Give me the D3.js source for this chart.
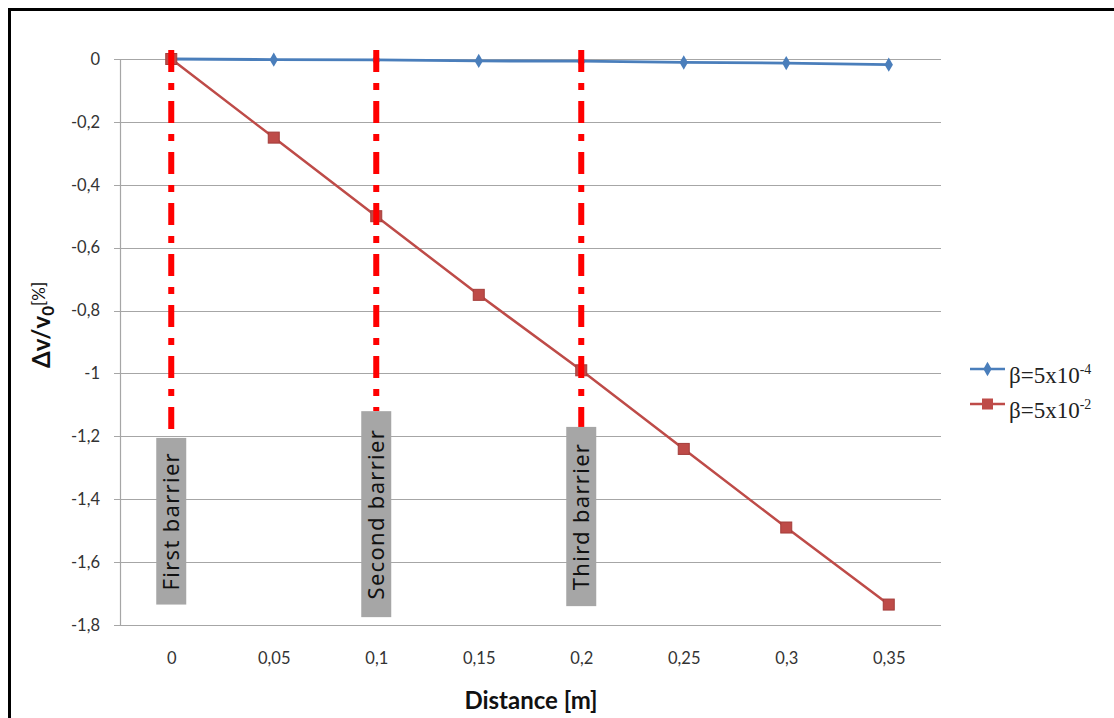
<!DOCTYPE html>
<html>
<head>
<meta charset="utf-8">
<script src="https://cdn.jsdelivr.net/npm/d3@7"></script>
<style>
  html, body { margin: 0; padding: 0; background: #fff; }
  svg { display: block; }
</style>
</head>
<body>
<svg id="chart" width="1114" height="718"></svg>
<script>
// ---- data ----
const categories = ["0", "0,05", "0,1", "0,15", "0,2", "0,25", "0,3", "0,35"];
const seriesSmallBeta = [0, -0.002, -0.003, -0.006, -0.007, -0.011, -0.013, -0.018];
const seriesLargeBeta = [0, -0.25, -0.5, -0.75, -0.99, -1.24, -1.49, -1.735];
const yTickValues = [0, -0.2, -0.4, -0.6, -0.8, -1, -1.2, -1.4, -1.6, -1.8];
const yTickLabels = ["0", "-0,2", "-0,4", "-0,6", "-0,8", "-1", "-1,2", "-1,4", "-1,6", "-1,8"];
const barrierCategories = ["0", "0,1", "0,2"];
const barrierLabels = ["First barrier", "Second barrier", "Third barrier"];
const barrierLabelTop = [-1.205, -1.12, -1.17];
const barrierLabelBottom = [-1.735, -1.775, -1.74];
const legendNames = ["β=5x10", "β=5x10"];
const legendExponents = ["-4", "-2"];

// ---- layout ----
const svg = d3.select("#chart");
const plotLeft = 120, plotRight = 940, plotTop = 59, plotBottom = 625;
const blue = "#4a7ebb", red = "#be4b48";

// frame
svg.append("line").attr("x1", 8).attr("x2", 1114).attr("y1", 9.5).attr("y2", 9.5)
  .attr("stroke", "#000").attr("stroke-width", 3);
svg.append("line").attr("x1", 9.5).attr("x2", 9.5).attr("y1", 8).attr("y2", 718)
  .attr("stroke", "#000").attr("stroke-width", 3);

const x = d3.scalePoint().domain(categories).range([plotLeft, plotRight]).padding(0.5);
const y = d3.scaleLinear().domain([-1.8, 0]).range([plotBottom, plotTop]);

// gridlines
svg.append("g").selectAll("line").data(yTickValues).join("line")
  .attr("x1", plotLeft - 6).attr("x2", plotRight + 1)
  .attr("y1", d => Math.round(y(d)) + 0.5).attr("y2", d => Math.round(y(d)) + 0.5)
  .attr("stroke", "#a6a6a6").attr("stroke-width", 1.2);

// y axis
const yAxis = d3.axisLeft(y).tickValues(yTickValues)
  .tickFormat((d, i) => yTickLabels[i]).tickSize(0).tickPadding(20);
const gy = svg.append("g").attr("transform", `translate(${plotLeft},0)`).call(yAxis);
gy.select(".domain").attr("stroke", "#a6a6a6").attr("stroke-width", 1.2);
gy.selectAll("text").attr("font-family", "Lato, 'Open Sans', sans-serif")
  .attr("font-size", 16.5).attr("fill", "#333");

// x axis
const xAxis = d3.axisBottom(x).tickSize(0).tickPadding(27);
const gx = svg.append("g").attr("transform", `translate(0,${plotBottom})`).call(xAxis);
gx.select(".domain").remove();
gx.selectAll("text").attr("font-family", "Lato, 'Open Sans', sans-serif")
  .attr("font-size", 16.5).attr("fill", "#333");

// axis titles
svg.append("text").attr("x", 531).attr("y", 709).attr("text-anchor", "middle")
  .attr("font-family", "Lato, 'Open Sans', sans-serif").attr("font-weight", "bold")
  .attr("font-size", 24).attr("fill", "#111").text("Distance [m]");

const yt = svg.append("text").attr("transform", "translate(50,325) rotate(-90)")
  .attr("text-anchor", "middle").attr("font-family", "Lato, 'Open Sans', sans-serif")
  .attr("fill", "#111");
yt.append("tspan").attr("font-weight", "bold").attr("font-size", 24).text("Δv/v");
yt.append("tspan").attr("font-weight", "bold").attr("font-size", 17).attr("dy", 4).text("0");
yt.append("tspan").attr("font-size", 17).attr("dy", -9).text("[%]");

// series lines
const line = d3.line().x((d, i) => x(categories[i])).y(d => y(d));
svg.append("path").datum(seriesSmallBeta).attr("d", line)
  .attr("fill", "none").attr("stroke", blue).attr("stroke-width", 2.8);
svg.append("path").datum(seriesLargeBeta).attr("d", line)
  .attr("fill", "none").attr("stroke", red).attr("stroke-width", 2.5);

// markers
svg.append("g").selectAll("path").data(seriesSmallBeta).join("path")
  .attr("transform", (d, i) => `translate(${x(categories[i])},${y(d)})`)
  .attr("d", d3.symbol(d3.symbolDiamond, 60)).attr("fill", blue);
svg.append("g").selectAll("rect").data(seriesLargeBeta).join("rect")
  .attr("x", (d, i) => x(categories[i]) - 5.5).attr("y", d => y(d) - 5.5)
  .attr("width", 11).attr("height", 11).attr("fill", red)
  .attr("stroke", "#a33c39").attr("stroke-width", 1);

// barriers
const barriers = svg.append("g");
barrierCategories.forEach((c, i) => {
  const bx = x(c);
  barriers.append("line").attr("x1", bx).attr("x2", bx)
    .attr("y1", 50).attr("y2", y(barrierLabelTop[i]))
    .attr("stroke", "#ff0000").attr("stroke-width", 6)
    .attr("stroke-dasharray", "22,11,7,11");
  const top = y(barrierLabelTop[i]), bottom = y(barrierLabelBottom[i]);
  barriers.append("rect").attr("x", bx - 15).attr("y", top)
    .attr("width", 30).attr("height", bottom - top).attr("fill", "#a6a6a6");
  barriers.append("text")
    .attr("transform", `translate(${bx + 8},${(top + bottom) / 2}) rotate(-90)`)
    .attr("text-anchor", "middle").attr("font-family", "'Noto Sans', 'Open Sans', sans-serif")
    .attr("font-size", 22).attr("letter-spacing", 1.3).attr("fill", "#111").text(barrierLabels[i]);
});

// legend
const legendColors = [blue, red];
const legendY = [369, 404];
legendNames.forEach((name, i) => {
  const g = svg.append("g");
  g.append("line").attr("x1", 970).attr("x2", 1005).attr("y1", legendY[i]).attr("y2", legendY[i])
    .attr("stroke", legendColors[i]).attr("stroke-width", 2.5);
  if (i === 0) {
    g.append("path").attr("transform", `translate(987.5,${legendY[i]})`)
      .attr("d", d3.symbol(d3.symbolDiamond, 60)).attr("fill", blue);
  } else {
    g.append("rect").attr("x", 982).attr("y", legendY[i] - 5.5).attr("width", 11).attr("height", 11)
      .attr("fill", red);
  }
  const t = g.append("text").attr("x", 1009).attr("y", legendY[i] + 14)
    .attr("font-family", "'Liberation Serif', 'DejaVu Serif', serif")
    .attr("font-size", 23).attr("fill", "#222");
  t.append("tspan").text(name);
  t.append("tspan").attr("font-size", 14).attr("dy", -9).text(legendExponents[i]);
});
</script>
</body>
</html>
